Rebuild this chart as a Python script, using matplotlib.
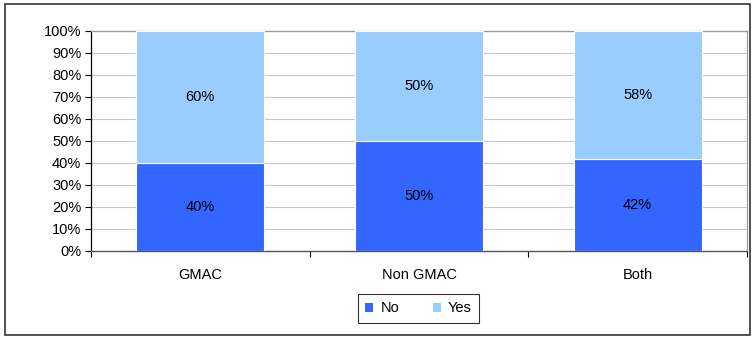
import matplotlib
matplotlib.use("Agg")
import matplotlib.pyplot as plt
from matplotlib.patches import Rectangle, Patch
import numpy as np

categories = ["GMAC", "Non GMAC", "Both"]
no_vals = [40, 50, 42]
yes_vals = [60, 50, 58]
series_names = ["No", "Yes"]
colors = ["#3366FF", "#99CCFF"]

plt.rcParams['font.family'] = ['Liberation Sans', 'DejaVu Sans']
fs = 10.5

fig = plt.figure(figsize=(7.52, 3.37), dpi=100)
ax = fig.add_axes([91/752, 1-251/337, (747-91)/752, (251-31)/337])

x = np.arange(len(categories))
w = 0.585
ax.bar(x, no_vals, w, color=colors[0], edgecolor="white", linewidth=0.8, label=series_names[0], zorder=3)
ax.bar(x, yes_vals, w, bottom=no_vals, color=colors[1], edgecolor="white", linewidth=0.8, label=series_names[1], zorder=3)

for xi, v in zip(x, no_vals):
    ax.text(xi, v/2, f"{v}%", ha="center", va="center", fontsize=fs, zorder=4)
for xi, b, v in zip(x, no_vals, yes_vals):
    ax.text(xi, b + v/2, f"{v}%", ha="center", va="center", fontsize=fs, zorder=4)

ax.set_xlim(-0.5, len(categories)-0.5)
ax.set_ylim(0, 100)
ax.set_yticks(np.arange(0, 101, 10))
ax.set_yticklabels([f"{t}%" for t in range(0, 101, 10)], fontsize=fs)
ax.yaxis.grid(True, color="#C8C8C8", linewidth=0.8, zorder=0)
ax.tick_params(axis="y", direction="out", length=4, width=0.8, color="black", pad=3)

ax.set_xticks(x)
ax.set_xticklabels(categories, fontsize=fs)
ax.tick_params(axis="x", which="major", length=0, pad=12)
ax.set_xticks(np.arange(-0.5, len(categories), 1), minor=True)
ax.tick_params(axis="x", which="minor", direction="out", length=4, width=0.8, color="black")

ax.spines["left"].set_color("black")
ax.spines["left"].set_linewidth(0.9)
ax.spines["bottom"].set_color("#555555")
ax.spines["bottom"].set_linewidth(1.0)
for s in ["top", "right"]:
    ax.spines[s].set_color("#999999")
    ax.spines[s].set_linewidth(0.9)

handles = [Patch(facecolor=colors[0], edgecolor="none"), Patch(facecolor=colors[1], edgecolor="none")]
leg = fig.legend(handles, series_names, loc="center", bbox_to_anchor=(418.5/752, 1-308.5/337),
                 ncol=2, frameon=True, fontsize=fs, handlelength=0.55, handleheight=0.55,
                 handletextpad=0.5, columnspacing=2.3, fancybox=False, borderpad=0.5)
leg.get_frame().set_edgecolor("black")
leg.get_frame().set_linewidth(0.8)

fig.patches.append(Rectangle((5/752, 2/337), 745/752, 331/337, transform=fig.transFigure,
                             fill=False, edgecolor="#333333", linewidth=1.2))

fig.savefig("out.png", dpi=100)
